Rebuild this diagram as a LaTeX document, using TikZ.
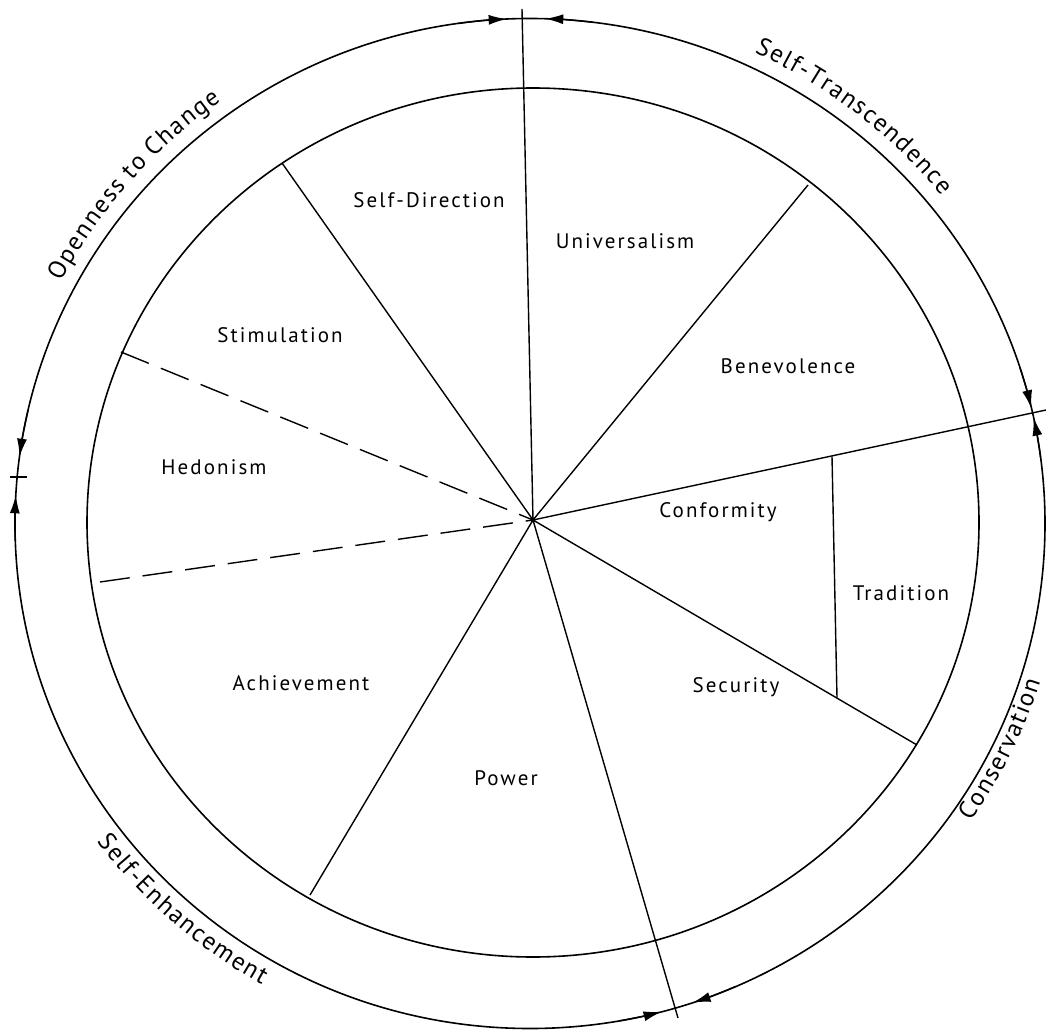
\documentclass[tikz,border=0pt]{standalone}
\usepackage{fontspec}
\setmainfont{PT Sans}
\newfontfamily\labfont[LetterSpace=10]{PT Sans}
\newfontfamily\arcfont{PT Sans}
\newcommand\arcsize{\arcfont\fontsize{25}{30}\selectfont}
\newcommand\arcgap{\kern1.6pt}
\usetikzlibrary{arrows.meta,decorations.text}
\begin{document}
\begin{tikzpicture}[x=1pt,y=1pt,
  ring/.style={line width=1.6pt},
  spoke/.style={line width=1.4pt},
  dashspoke/.style={line width=1.4pt, dash pattern=on 30pt off 13pt},
  lab/.style={font=\labfont\fontsize{21}{25}\selectfont, inner sep=0pt, anchor=base},
  tiparc/.style={line width=1.4pt, -{Latex[length=18pt,width=10pt]}},
  arclabel/.style={decorate, decoration={text along path, text align=center, text={#1}}},
]
\useasboundingbox (0,0) rectangle (1046,-1030);
\fill[white] (0,0) rectangle (1046,-1030);
\coordinate (oc) at (530,-523.5);
\coordinate (ic) at (533,-522.5);
\coordinate (hub) at (533,-520);
% rings
\draw[ring] (oc) ellipse [x radius=515, y radius=505];
\draw[ring] (ic) ellipse [x radius=446, y radius=434.5];
% spoke end points
\coordinate (pTop) at (522,-9);
\coordinate (pSD) at (282,-163);
\coordinate (pSH) at (121,-352);
\coordinate (pHA) at (100,-582);
\coordinate (pAP) at (310,-895);
\coordinate (pPS) at (678,-1018);
\coordinate (pSC) at (917,-745);
\coordinate (pCB) at (1046,-410);
\coordinate (pBU) at (808,-185);
\coordinate (pT1) at (832,-456.5);
\coordinate (pT2) at (837,-698);
\coordinate (tk1) at (10,-477);
\coordinate (tk2) at (27,-477);
% spokes
\draw[spoke] (hub) -- (pTop);
\draw[spoke] (hub) -- (pSD);
\draw[dashspoke] (pSH) -- (hub);
\draw[dashspoke] (pHA) -- (hub);
\draw[spoke] (hub) -- (pAP);
\draw[spoke] (hub) -- (pPS);
\draw[spoke] (hub) -- (pSC);
\draw[spoke] (hub) -- (pCB);
\draw[spoke] (hub) -- (pBU);
\draw[spoke] (pT1) -- (pT2);
\draw[spoke] (tk1) -- (tk2);
\fill (hub) circle (2.5);
% arrowheads on the outer ring
\begin{scope}[shift={(oc)}]
\draw[tiparc] (98:515 and 505) arc[start angle=98, end angle=92.6, x radius=515, y radius=505];
\draw[tiparc] (83:515 and 505) arc[start angle=83, end angle=88.3, x radius=515, y radius=505];
\draw[tiparc] (18:515 and 505) arc[start angle=18, end angle=13.2, x radius=515, y radius=505];
\draw[tiparc] (7.5:515 and 505) arc[start angle=7.5, end angle=12.1, x radius=515, y radius=505];
\draw[tiparc] (167:515 and 505) arc[start angle=167, end angle=172.4, x radius=515, y radius=505];
\draw[tiparc] (182:515 and 505) arc[start angle=182, end angle=176.8, x radius=515, y radius=505];
\draw[tiparc] (-80:515 and 505) arc[start angle=-80, end angle=-75.2, x radius=515, y radius=505];
\draw[tiparc] (-66.5:515 and 505) arc[start angle=-66.5, end angle=-71.6, x radius=515, y radius=505];
% ring labels
\path[arclabel={|\arcsize|{O\arcgap}{p\arcgap}{e\arcgap}{n\arcgap}{n\arcgap}{e\arcgap}{s\arcgap}{s\arcgap} {t\arcgap}{o\arcgap} {C\arcgap}{h\arcgap}{a\arcgap}{n\arcgap}{g\arcgap}{e}}]
  (160:530 and 520) arc[start angle=160, end angle=118, x radius=530, y radius=520];
\path[arclabel={|\arcsize|{S\arcgap}{e\arcgap}{l\arcgap}{f\arcgap}{-\arcgap}{T\arcgap}{r\arcgap}{a\arcgap}{n\arcgap}{s\arcgap}{c\arcgap}{e\arcgap}{n\arcgap}{d\arcgap}{e\arcgap}{n\arcgap}{c\arcgap}{e}}]
  (68:530 and 520) arc[start angle=68, end angle=36, x radius=530, y radius=520];
\path[arclabel={|\arcsize|{S\arcgap}{e\arcgap}{l\arcgap}{f\arcgap}{-\arcgap}{E\arcgap}{n\arcgap}{h\arcgap}{a\arcgap}{n\arcgap}{c\arcgap}{e\arcgap}{m\arcgap}{e\arcgap}{n\arcgap}{t}}]
  (210:541 and 531) arc[start angle=210, end angle=247, x radius=541, y radius=531];
\path[arclabel={|\arcsize|{C\arcgap}{o\arcgap}{n\arcgap}{s\arcgap}{e\arcgap}{r\arcgap}{v\arcgap}{a\arcgap}{t\arcgap}{i\arcgap}{o\arcgap}{n}}]
  (-44:535 and 525) arc[start angle=-44, end angle=-8, x radius=535, y radius=525];
\end{scope}
% sector labels
\node[lab] (sd) at (429,-207) {Self-Direction};
\node[lab] (un) at (625,-248) {Universalism};
\node[lab] (st) at (280,-342) {Stimulation};
\node[lab] (be) at (788,-373) {Benevolence};
\node[lab] (he) at (214,-474) {Hedonism};
\node[lab] (co) at (718,-517) {Conformity};
\node[lab] (tr) at (901,-600) {Tradition};
\node[lab] (ac) at (301,-690) {Achievement};
\node[lab] (se) at (736,-692) {Security};
\node[lab] (po) at (506,-785) {Power};
\end{tikzpicture}
\end{document}
